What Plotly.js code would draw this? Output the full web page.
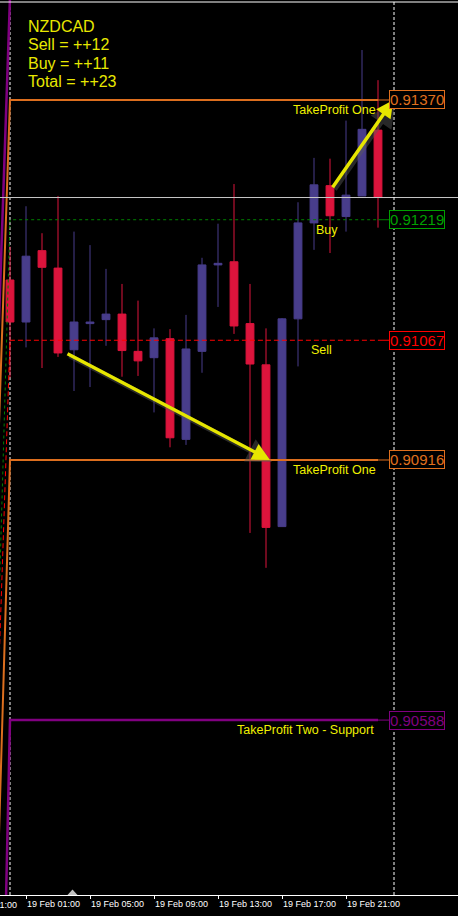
<!DOCTYPE html>
<html><head><meta charset="utf-8">
<script src="https://cdn.plot.ly/plotly-3.0.1.min.js"></script>
<style>html,body{margin:0;padding:0;background:#000;}#chart{width:458px;height:916px;}</style>
</head><body><div id="chart"></div>
<script>
// hourly bars of 19 Feb (hour index 0..23)
const hours = [0,1,2,3,4,5,6,7,8,9,10,11,12,13,14,15,16,17,18,19,20,21,22,23];
const openP  = [0.91143,0.91090,0.91180,0.91158,0.91055,0.91088,0.91093,0.91100,0.91053,0.91045,0.91069,0.90942,0.91053,0.91162,0.91166,0.91088,0.91036,0.90832,0.91094,0.91215,0.91262,0.91223,0.91249,0.91332];
const highP  = [0.91185,0.91236,0.91202,0.91249,0.91204,0.91187,0.91157,0.91138,0.91117,0.91082,0.91081,0.91099,0.91171,0.91214,0.91264,0.91138,0.91082,0.91095,0.91241,0.91297,0.91296,0.91344,0.91433,0.91395];
const lowP   = [0.91020,0.91058,0.91032,0.91046,0.91003,0.91008,0.91060,0.91021,0.91022,0.90976,0.90932,0.90935,0.91026,0.91109,0.91075,0.90824,0.90780,0.90832,0.91034,0.91181,0.91177,0.91204,0.91249,0.91209];
const closeP = [0.91090,0.91173,0.91159,0.91051,0.91090,0.91090,0.91100,0.91054,0.91041,0.91070,0.90944,0.91056,0.91162,0.91164,0.91085,0.91037,0.90831,0.91094,0.91215,0.91263,0.91224,0.91250,0.91333,0.91247];

// x axis tick labels (hour index -> label)
const tickHours  = [-3,1,5,9,13,17,21];
const tickLabels = ['18 Feb 21:00','19 Feb 01:00','19 Feb 05:00','19 Feb 09:00','19 Feb 13:00','19 Feb 17:00','19 Feb 21:00'];

// level lines: previous-day value, current value
const levelNames   = ['TakeProfit Two - Resistance','TakeProfit One','Buy','Sell','TakeProfit One','TakeProfit Two - Support'];
const levelPrev    = [0.90908,0.90775,0.90512,0.90472,0.90229,0.89680];
const levelValues  = [0.91500,0.91370,0.91219,0.91067,0.90916,0.90588];
const levelLabels  = ['','TakeProfit One','Buy','Sell','TakeProfit One','TakeProfit Two - Support'];
const levelColors  = ['#800080','#DC6E1E','#008000','#FF0000','#DC6E1E','#800080'];
const boxColors    = ['#800080','#E0701E','#00A000','#FF0000','#E0701E','#800080'];

// info block
const infoLines = ['NZDCAD','Sell = ++12','Buy = ++11','Total = ++23'];

// signal arrows (from entry to target)
const arrowFromH = [3.5, 20.1];
const arrowFromP = [0.91051, 0.91258];
const arrowToH   = [16.25, 23.96];
const arrowToP   = [0.90916, 0.91370];

const W = 458, PH = 895;
const xRange = [-0.625, 28];
const yRange = [0.903674, 0.914961];
const px2paperX = p => p / W;
const px2paperY = p => 1 - p / PH;
const h2paper = h => (h - xRange[0]) / (xRange[1] - xRange[0]);

const traces = [{
  type:'candlestick', x:hours, open:openP, high:highP, low:lowP, close:closeP,
  increasing:{line:{color:'#483D8B',width:1}, fillcolor:'#483D8B'},
  decreasing:{line:{color:'#DC143C',width:1}, fillcolor:'#DC143C'},
  whiskerwidth:0, hoverinfo:'skip'
}];

const dashes = ['solid','solid','3px,3px','5px,3px','solid','solid'];
const widths = [2.5,2,1,1,2,2.5];
levelValues.forEach((v,i)=>{
  traces.push({type:'scatter', mode:'lines', x:[-1,0,23], y:[levelPrev[i],v,v],
    line:{color:levelColors[i], width:widths[i], dash:dashes[i]}, hoverinfo:'skip'});
});

const shapes = [
  {type:'line', xref:'paper', yref:'paper', x0:0, x1:1, y0:px2paperY(2), y1:px2paperY(2), line:{color:'#FFFFFF', width:1}},
  {type:'line', xref:'paper', yref:'y', x0:0, x1:1, y0:closeP[23], y1:closeP[23], line:{color:'#C8C8C8', width:1}},
  {type:'line', xref:'x', yref:'paper', x0:0, x1:0, y0:0, y1:1, line:{color:'#FFFFFF', width:1, dash:'3px,2px'}, layer:'below'},
  {type:'line', xref:'x', yref:'paper', x0:24, x1:24, y0:0, y1:1, line:{color:'#FFFFFF', width:1, dash:'3px,2px'}},
  {type:'path', xref:'paper', yref:'paper',
   path:`M ${px2paperX(67.5)} ${px2paperY(895)} L ${px2paperX(77.5)} ${px2paperY(895)} L ${px2paperX(72.5)} ${px2paperY(889.5)} Z`,
   fillcolor:'#C0C0C0', line:{width:0}}
];
levelValues.forEach((v,i)=>{
  if(i===0) return;
  shapes.push({type:'line', xref:'paper', yref:'y', x0:px2paperX(378), x1:px2paperX(389), y0:v, y1:v, line:{color:levelColors[i], width:1}});
});

const annotations = [];
// arrow shadows, then arrows
arrowFromH.forEach((h,i)=>{
  annotations.push({xref:'x', yref:'y', axref:'x', ayref:'y', x:arrowToH[i], y:arrowToP[i], ax:h, ay:arrowFromP[i],
    xshift:2, yshift:-2, text:'', showarrow:true, arrowhead:2, arrowsize:1.0, arrowwidth:5, arrowcolor:'rgba(90,90,90,0.45)', standoff:0});
});
arrowFromH.forEach((h,i)=>{
  annotations.push({xref:'x', yref:'y', axref:'x', ayref:'y', x:arrowToH[i], y:arrowToP[i], ax:h, ay:arrowFromP[i],
    text:'', showarrow:true, arrowhead:2, arrowsize:1.0, arrowwidth:3.5, arrowcolor:'#E6E600', standoff:0});
});
// price boxes
levelValues.forEach((v,i)=>{
  if(i===0) return;
  annotations.push({xref:'paper', yref:'y', x:px2paperX(389), y:v, xanchor:'left', yanchor:'middle',
    text:v.toFixed(5), showarrow:false, font:{family:'Liberation Sans', size:15, color:boxColors[i]},
    bgcolor:'#000', bordercolor:boxColors[i], borderwidth:1, borderpad:0});
});
// level labels
const labelRight = [0,378,340,334,378,376];
levelLabels.forEach((t,i)=>{
  if(!t) return;
  annotations.push({xref:'paper', yref:'y', x:px2paperX(labelRight[i]), y:levelValues[i], xanchor:'right', yanchor:'top',
    yshift:-1, text:t, showarrow:false, font:{family:'Liberation Sans', size:12.5, color:'#F0F000'}});
});
// info block
infoLines.forEach((t,i)=>{
  annotations.push({xref:'paper', yref:'paper', x:px2paperX(26), y:px2paperY(26.5+18.3*i), xanchor:'left', yanchor:'middle',
    text:t, showarrow:false, font:{family:'Liberation Sans', size:16, color:'#E8E800'}});
});
// cut-off tick label at the left edge
annotations.push({xref:'paper', yref:'paper', x:h2paper(tickHours[0]), y:-(904.5-PH)/PH, xanchor:'left', yanchor:'middle',
  text:tickLabels[0], showarrow:false, font:{family:'Liberation Sans', size:9, color:'#FFFFFF'}});

const layout = {
  width:458, height:916, paper_bgcolor:'#000', plot_bgcolor:'#000',
  margin:{l:0,r:0,t:0,b:21,pad:0}, showlegend:false, dragmode:false,
  xaxis:{range:xRange, tickvals:tickHours.slice(1), ticktext:tickLabels.slice(1), ticks:'outside', ticklen:3,
    tickcolor:'#FFFFFF', showline:true, linecolor:'#FFFFFF', linewidth:1, showgrid:false, zeroline:false,
    tickangle:0, tickfont:{family:'Liberation Sans', size:9, color:'#FFFFFF'}, ticklabelposition:'outside right',
    rangeslider:{visible:false}, fixedrange:true},
  yaxis:{range:yRange, visible:false, showgrid:false, zeroline:false, fixedrange:true},
  shapes:shapes, annotations:annotations
};
Plotly.newPlot('chart', traces, layout, {displayModeBar:false, staticPlot:true});
</script></body></html>
